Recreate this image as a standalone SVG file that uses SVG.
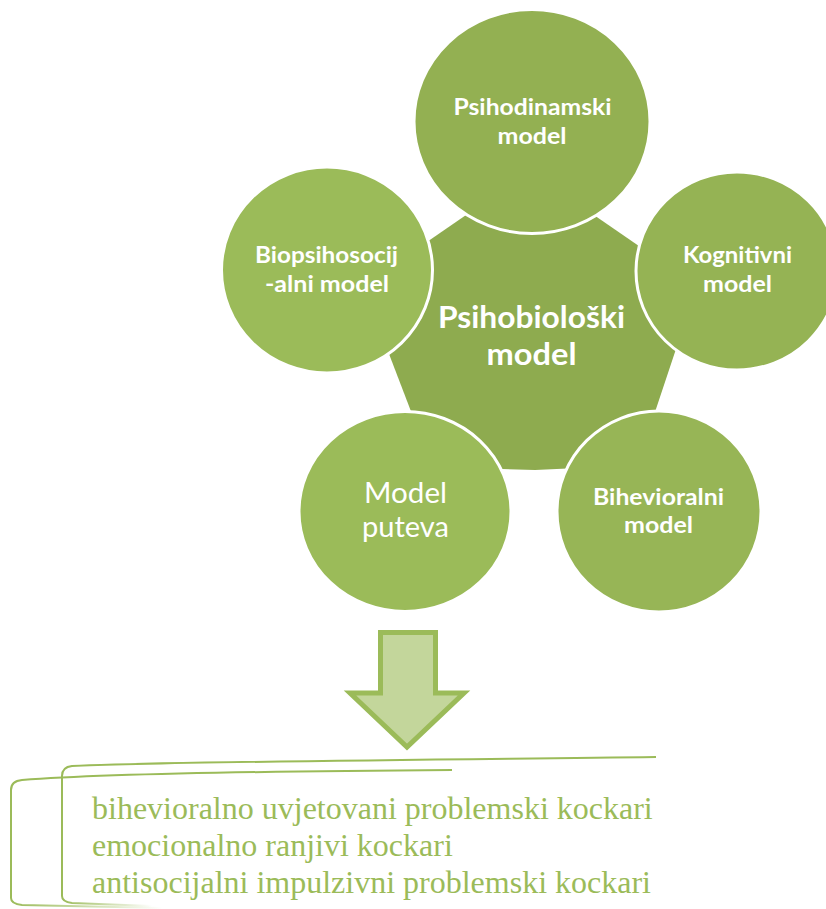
<svg xmlns="http://www.w3.org/2000/svg" width="826" height="909" viewBox="0 0 826 909">
<defs>
<style>
.c{stroke:#fff;stroke-width:3}
.lb{font-family:Lato,"Open Sans","Liberation Sans",sans-serif;font-weight:bold;font-size:23px;fill:#fff;text-anchor:middle}
.lr{font-family:Lato,"Open Sans","Liberation Sans",sans-serif;font-weight:normal;font-size:28px;fill:#fff;text-anchor:middle}
.lc{font-family:Lato,"Open Sans","Liberation Sans",sans-serif;font-weight:bold;font-size:31px;fill:#fff;text-anchor:middle}
.br{fill:none;stroke:#9BBB59;stroke-width:2}
.bt{font-family:"Liberation Serif","Times New Roman",serif;font-size:32px;fill:#9BBB59}
</style>
<linearGradient id="fadeA" gradientUnits="userSpaceOnUse" x1="62" y1="0" x2="152" y2="0">
<stop offset="0" stop-color="#9BBB59"/><stop offset="1" stop-color="#9BBB59" stop-opacity="0"/>
</linearGradient>
<linearGradient id="fadeB" gradientUnits="userSpaceOnUse" x1="11" y1="0" x2="162" y2="0">
<stop offset="0" stop-color="#9BBB59"/><stop offset="1" stop-color="#9BBB59" stop-opacity="0"/>
</linearGradient>
</defs>
<g id="center">
<path d="M530,171 L697,286 L654,415 L600,467 L535,470 L470,468 L412,414 L363,286 Z" fill="#8EAB4F"/>
<text class="lc" x="531.5" y="328" textLength="187" lengthAdjust="spacingAndGlyphs">Psihobiološki</text>
<text class="lc" x="531.5" y="365" textLength="90" lengthAdjust="spacingAndGlyphs">model</text>
</g>
<g id="psihodinamski">
<ellipse class="c" cx="532" cy="121.5" rx="118" ry="112" fill="#93B052"/>
<text class="lb" x="532.5" y="115" textLength="158" lengthAdjust="spacingAndGlyphs">Psihodinamski</text>
<text class="lb" x="532" y="144" textLength="69" lengthAdjust="spacingAndGlyphs">model</text>
</g>
<g id="kognitivni">
<ellipse class="c" cx="737" cy="271" rx="101" ry="99" fill="#95B354"/>
<text class="lb" x="737.5" y="263" textLength="109" lengthAdjust="spacingAndGlyphs">Kognitivni</text>
<text class="lb" x="737.5" y="292" textLength="69" lengthAdjust="spacingAndGlyphs">model</text>
</g>
<g id="bihevioralni">
<ellipse class="c" cx="659" cy="511.5" rx="102" ry="100.5" fill="#97B556"/>
<text class="lb" x="658.5" y="505" textLength="131" lengthAdjust="spacingAndGlyphs">Bihevioralni</text>
<text class="lb" x="658.5" y="533" textLength="69" lengthAdjust="spacingAndGlyphs">model</text>
</g>
<g id="model-puteva">
<ellipse class="c" cx="405" cy="511.5" rx="106" ry="100" fill="#9BBB59"/>
<text class="lr" x="405.5" y="503" textLength="83" lengthAdjust="spacingAndGlyphs">Model</text>
<text class="lr" x="405.5" y="537" textLength="87" lengthAdjust="spacingAndGlyphs">puteva</text>
</g>
<g id="biopsihosocijalni">
<ellipse class="c" cx="327" cy="270" rx="105.5" ry="103" fill="#9BBB59"/>
<text class="lb" x="326.5" y="263" textLength="143" lengthAdjust="spacingAndGlyphs">Biopsihosocij</text>
<text class="lb" x="327" y="292" textLength="124" lengthAdjust="spacingAndGlyphs">-alni model</text>
</g>
<g id="connectors">
<path d="M380.5,632.5 H435.5 V693 H464 L407,747 L350,693 H380.5 Z" fill="#C3D69B" stroke="#9BBB59" stroke-width="5" stroke-linejoin="miter"/>
</g>
<g id="result-box">
<path class="br" d="M656,757 C400,760 150,762 72,766 Q62,767 62,776 V896"/>
<path d="M62,896 Q62,902 72,903 L152,906" fill="none" stroke="url(#fadeA)" stroke-width="2"/>
<path class="br" d="M452,770 C300,771 100,774 22,780 Q11,781 11,790 V898"/>
<path d="M11,898 Q11,904 22,905 L162,908" fill="none" stroke="url(#fadeB)" stroke-width="2"/>
<text class="bt" x="92" y="819">bihevioralno uvjetovani problemski kockari</text>
<text class="bt" x="92" y="856">emocionalno ranjivi kockari</text>
<text class="bt" x="92" y="893">antisocijalni impulzivni problemski kockari</text>
</g>
</svg>
